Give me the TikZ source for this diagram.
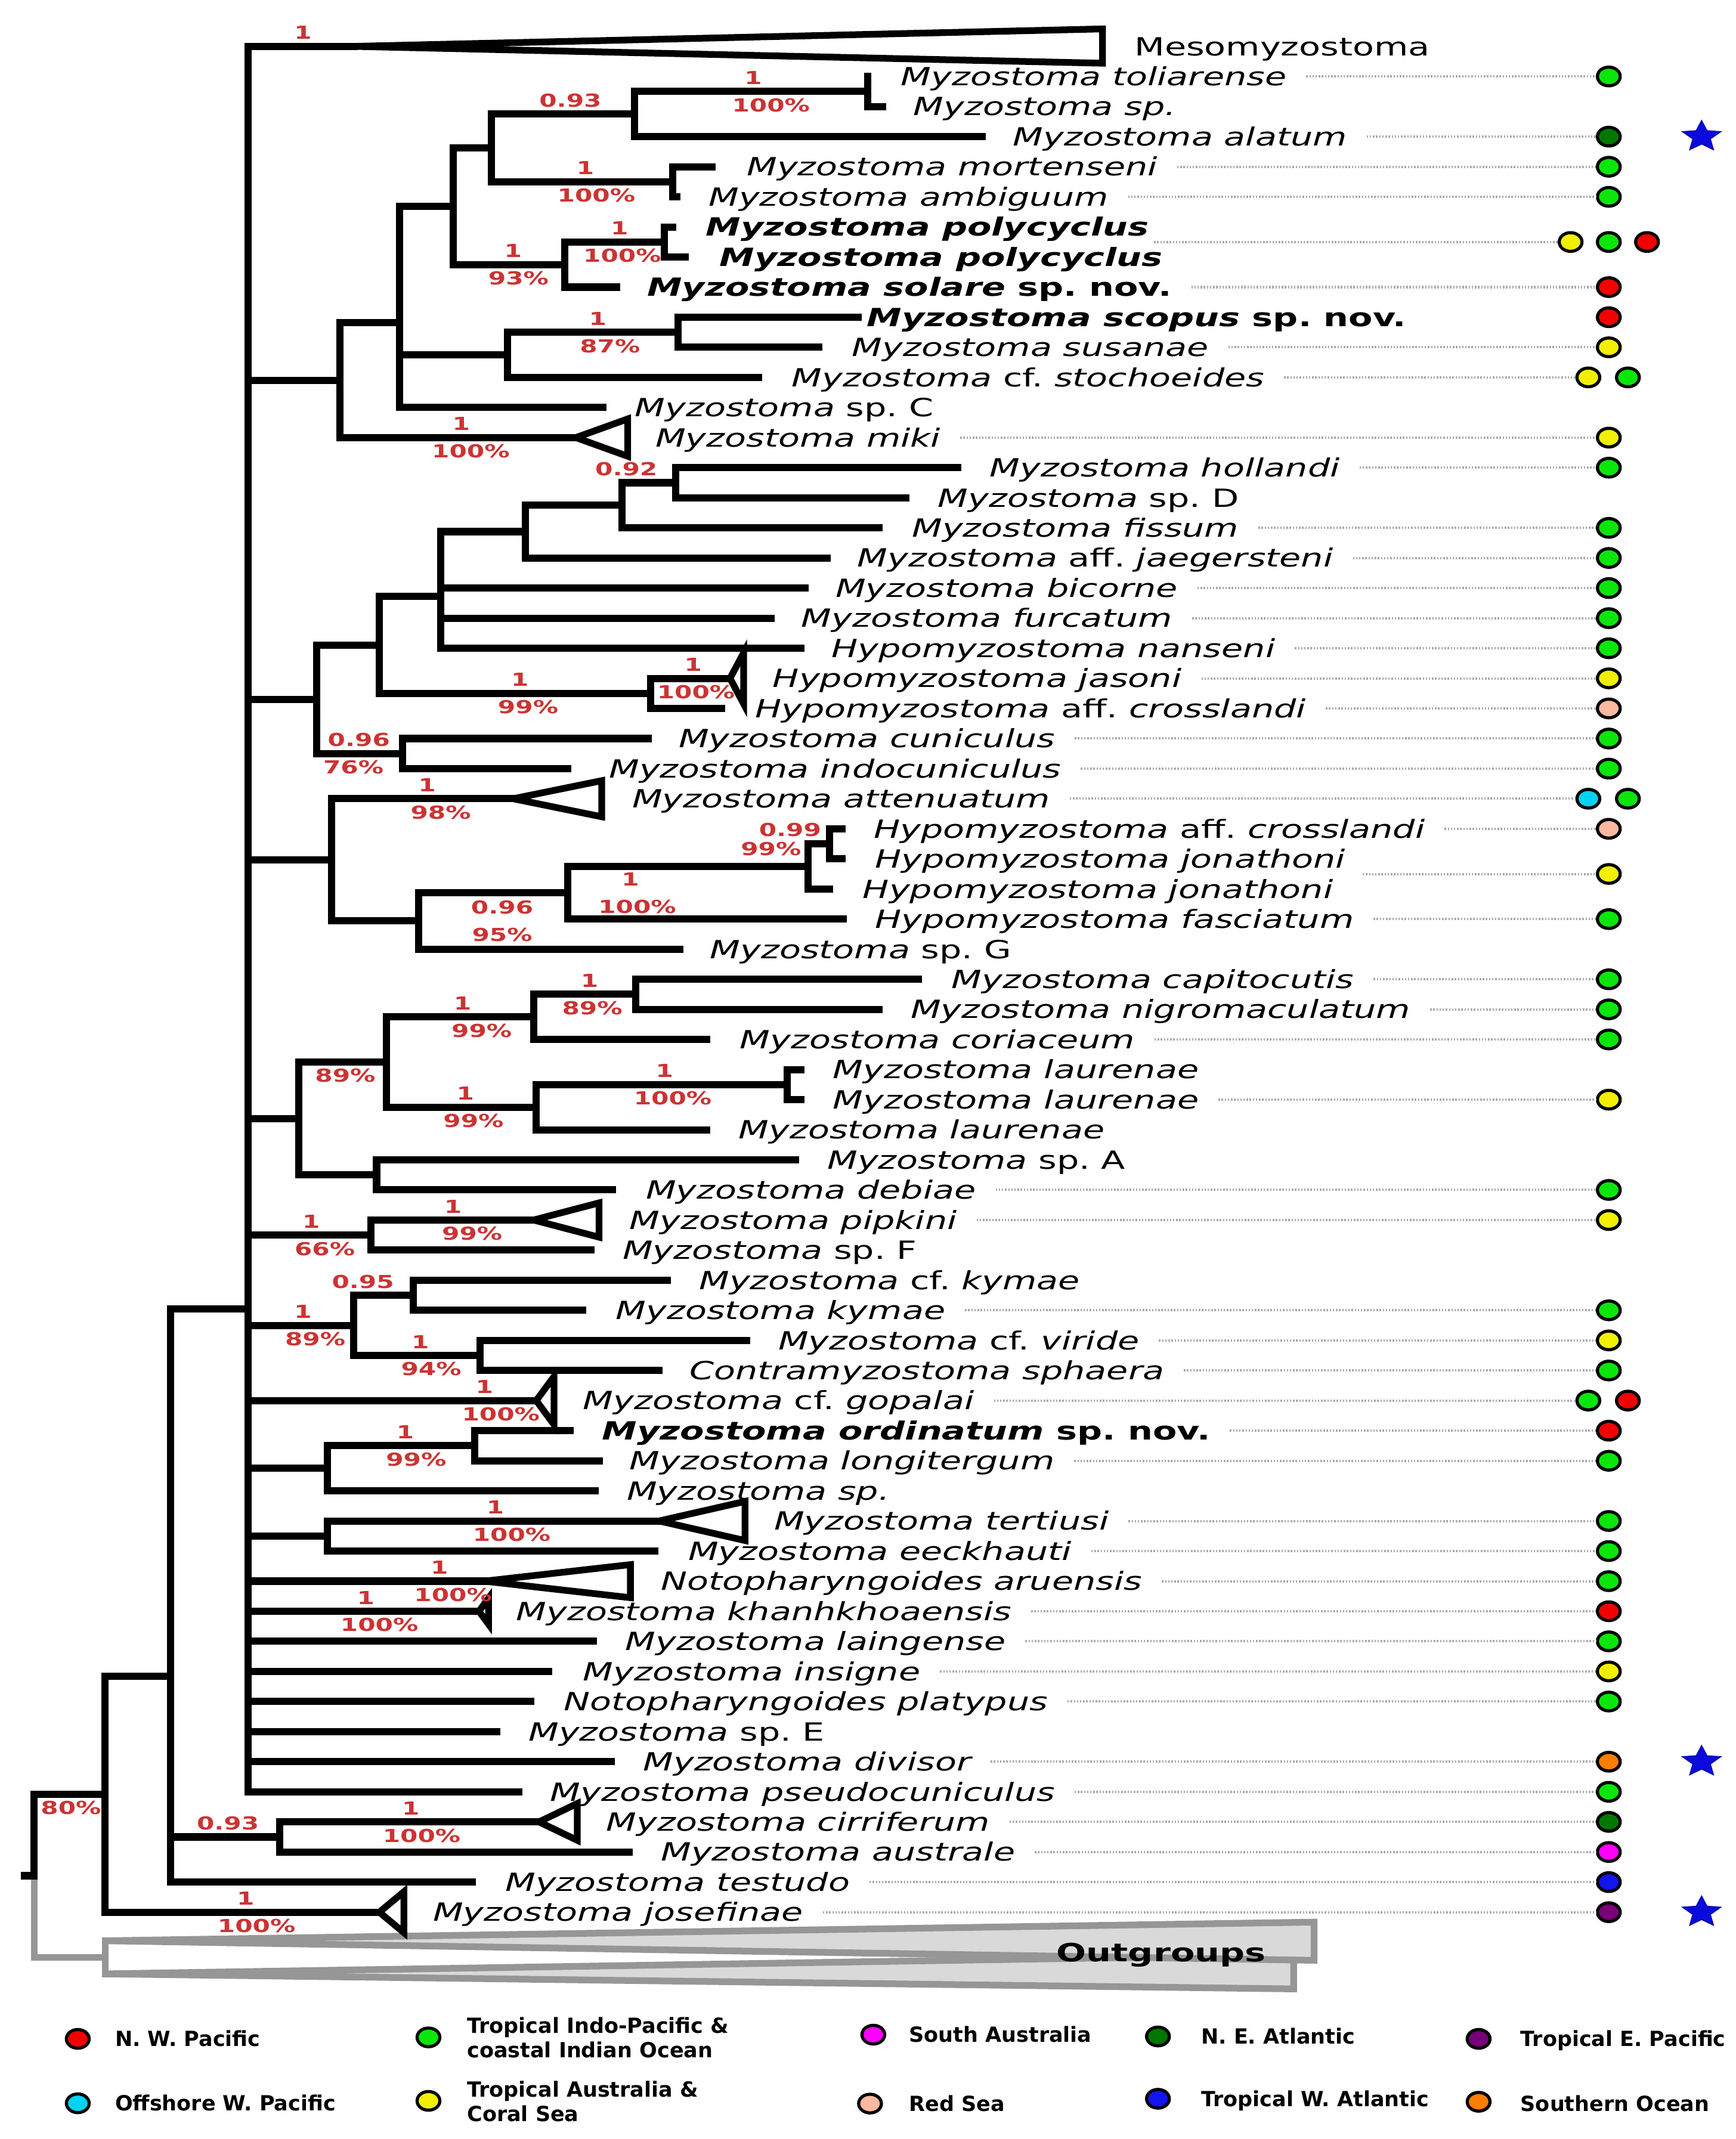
\documentclass[tikz,border=0pt]{standalone}
\usepackage{fontspec}
\usetikzlibrary{shapes.geometric}
\newfontfamily\taxfont[FakeStretch=1.4,ItalicFont={DejaVu Sans Oblique},BoldFont={DejaVu Sans Bold},BoldItalicFont={DejaVu Sans Bold Oblique}]{DejaVu Sans}
\newfontfamily\legfont[BoldFont={DejaVu Sans Bold}]{DejaVu Sans}
\definecolor{supred}{RGB}{204,51,51}
\definecolor{cNWP}{RGB}{245,0,0}
\definecolor{cTIP}{RGB}{10,230,10}
\definecolor{cSA}{RGB}{255,0,255}
\definecolor{cNEA}{RGB}{0,120,0}
\definecolor{cTEP}{RGB}{120,0,120}
\definecolor{cOWP}{RGB}{0,210,240}
\definecolor{cTAC}{RGB}{240,240,0}
\definecolor{cRS}{RGB}{250,185,160}
\definecolor{cTWA}{RGB}{20,20,240}
\definecolor{cSO}{RGB}{255,125,0}
\definecolor{ogline}{RGB}{150,150,150}
\definecolor{ogfill}{RGB}{217,217,217}
\definecolor{leadgray}{RGB}{170,170,170}
\definecolor{starblue}{RGB}{10,10,220}
\frenchspacing

\begin{document}
\begin{tikzpicture}[x=0.02cm, y=-0.4412cm,
  br/.style={line width=3pt, line cap=rect, line join=miter},
  clade/.style={line width=2.8pt, line join=miter, fill=white},
  ogbr/.style={draw=ogline, line width=2.8pt, line cap=rect, line join=miter},
  ogclade/.style={draw=ogline, line width=2.8pt, line join=miter, fill=ogfill},
  taxon/.style={anchor=base west, inner sep=0pt, yshift=-3.8pt, font=\taxfont\fontsize{10.45}{12}\selectfont\itshape},
  supt/.style={inner sep=0pt, text=supred, font=\taxfont\fontsize{7.5}{9}\selectfont\bfseries},
  postlab/.style={supt, yshift=5.7pt},
  bootlab/.style={supt, yshift=-5.7pt},
  leader/.style={draw=leadgray, line width=1pt, dash pattern=on 0.6pt off 0.7pt},
  regdot/.style={ellipse, draw, line width=1.3pt, minimum width=0.334cm, minimum height=0.274cm, inner sep=0pt},
  starmark/.style={star, star points=5, star point ratio=2.2, minimum size=13.5pt, inner sep=0pt, fill=starblue, draw=starblue!80!black, line width=0.4pt, xscale=1.25},
  legtext/.style={anchor=base west, inner sep=0pt, yshift=-3.2pt, font=\legfont\fontsize{8.7}{10.3}\selectfont\bfseries},
  legblock/.style={anchor=west, align=left, inner sep=0pt, font=\legfont\fontsize{8.7}{10.3}\selectfont\bfseries}]
\useasboundingbox (0,-0.5413) rectangle (1272,70.538);

\coordinate (rootstub) at (18,61.788);
\coordinate (root) at (25,61.788);
\coordinate (nR2) at (77,59.076);
\coordinate (nOut) at (77,64.5);
\coordinate (ogA) at (77,63.95);
\coordinate (ogB) at (77,65.05);
\coordinate (nR3) at (125,55.152);
\coordinate (nA) at (182,42.955);
\coordinate (nK) at (205,60.5);
\coordinate (nB) at (249,12.094);
\coordinate (nB1) at (293,10.1875);
\coordinate (nB2) at (332,6.3125);
\coordinate (nB4) at (360,4.375);
\coordinate (nAla) at (465,3.25);
\coordinate (nTol) at (636,2.5);
\coordinate (nMor) at (493,5.5);
\coordinate (nSol) at (414,8.25);
\coordinate (nPol) at (487,7.5);
\coordinate (nB3) at (372,11.25);
\coordinate (nSco) at (497,10.5);
\coordinate (nC) at (232,22.695);
\coordinate (nC1) at (278,20.891);
\coordinate (nC2) at (323,19.281);
\coordinate (nC3) at (385,17.125);
\coordinate (nC4) at (456,16.25);
\coordinate (nHol) at (495,15.5);
\coordinate (nJas) at (477,22.5);
\coordinate (nCun) at (295,24.5);
\coordinate (nD) at (243,28.031);
\coordinate (nD2) at (307,30.0625);
\coordinate (nD3) at (416,29.125);
\coordinate (nD4) at (592,28.25);
\coordinate (nD5) at (608,27.5);
\coordinate (nE) at (219,36.625);
\coordinate (nE1) at (283,34.75);
\coordinate (nE3) at (391,33.25);
\coordinate (nE5) at (466,32.5);
\coordinate (nE4) at (393,36.25);
\coordinate (nE6) at (577,35.5);
\coordinate (nE2) at (276,38.5);
\coordinate (nF) at (272,40.5);
\coordinate (nG) at (259,43.5);
\coordinate (nG1) at (303,42.5);
\coordinate (nG2) at (352,44.5);
\coordinate (nH) at (240,48.25);
\coordinate (nH1) at (348,47.5);
\coordinate (nI) at (240,50.5);

\coordinate (t1) at (259,1); \node[taxon] (l1) at (831,1) {\textup{Mesomyzostoma}};
\coordinate (t2) at (636,2); \node[taxon] (l2) at (660,2) {Myzostoma toliarense};
\coordinate (t3) at (647,3); \node[taxon] (l3) at (669,3) {Myzostoma sp.};
\coordinate (t4) at (720,4); \node[taxon] (l4) at (742,4) {Myzostoma alatum};
\coordinate (t5) at (522,5); \node[taxon] (l5) at (547,5) {Myzostoma mortenseni};
\coordinate (t6) at (496,6); \node[taxon] (l6) at (519,6) {Myzostoma ambiguum};
\coordinate (t7) at (493,7); \node[taxon] (l7) at (517,7) {\bfseries Myzostoma polycyclus};
\coordinate (t8) at (502,8); \node[taxon] (l8) at (527,8) {\bfseries Myzostoma polycyclus};
\coordinate (t9) at (452,9); \node[taxon] (l9) at (474,9) {\bfseries Myzostoma solare \textup{sp. nov.}};
\coordinate (t10) at (629,10); \node[taxon] (l10) at (635,10) {\bfseries Myzostoma scopus \textup{sp. nov.}};
\coordinate (t11) at (600,11); \node[taxon] (l11) at (624,11) {Myzostoma susanae};
\coordinate (t12) at (556,12); \node[taxon] (l12) at (580,12) {Myzostoma \textup{cf.} stochoeides};
\coordinate (t13) at (442,13); \node[taxon] (l13) at (465,13) {Myzostoma \textup{sp. C}};
\coordinate (t14) at (422,14); \node[taxon] (l14) at (480,14) {Myzostoma miki};
\coordinate (t15) at (702,15); \node[taxon] (l15) at (725,15) {Myzostoma hollandi};
\coordinate (t16) at (664,16); \node[taxon] (l16) at (687,16) {Myzostoma \textup{sp. D}};
\coordinate (t17) at (644,17); \node[taxon] (l17) at (668,17) {Myzostoma fissum};
\coordinate (t18) at (606,18); \node[taxon] (l18) at (628,18) {Myzostoma \textup{aff.} jaegersteni};
\coordinate (t19) at (590,19); \node[taxon] (l19) at (612,19) {Myzostoma bicorne};
\coordinate (t20) at (565,20); \node[taxon] (l20) at (587,20) {Myzostoma furcatum};
\coordinate (t21) at (587,21); \node[taxon] (l21) at (609,21) {Hypomyzostoma nanseni};
\coordinate (t22) at (535,22); \node[taxon] (l22) at (566,22) {Hypomyzostoma jasoni};
\coordinate (t23) at (529,23); \node[taxon] (l23) at (553,23) {Hypomyzostoma \textup{aff.} crosslandi};
\coordinate (t24) at (475,24); \node[taxon] (l24) at (497,24) {Myzostoma cuniculus};
\coordinate (t25) at (416,25); \node[taxon] (l25) at (446,25) {Myzostoma indocuniculus};
\coordinate (t26) at (376,26); \node[taxon] (l26) at (463,26) {Myzostoma attenuatum};
\coordinate (t27) at (617,27); \node[taxon] (l27) at (640,27) {Hypomyzostoma \textup{aff.} crosslandi};
\coordinate (t28) at (617,28); \node[taxon] (l28) at (641,28) {Hypomyzostoma jonathoni};
\coordinate (t29) at (608,29); \node[taxon] (l29) at (632,29) {Hypomyzostoma jonathoni};
\coordinate (t30) at (618,30); \node[taxon] (l30) at (641,30) {Hypomyzostoma fasciatum};
\coordinate (t31) at (498,31); \node[taxon] (l31) at (520,31) {Myzostoma \textup{sp. G}};
\coordinate (t32) at (673,32); \node[taxon] (l32) at (697,32) {Myzostoma capitocutis};
\coordinate (t33) at (644,33); \node[taxon] (l33) at (667,33) {Myzostoma nigromaculatum};
\coordinate (t34) at (518,34); \node[taxon] (l34) at (542,34) {Myzostoma coriaceum};
\coordinate (t35) at (587,35); \node[taxon] (l35) at (610,35) {Myzostoma laurenae};
\coordinate (t36) at (587,36); \node[taxon] (l36) at (610,36) {Myzostoma laurenae};
\coordinate (t37) at (518,37); \node[taxon] (l37) at (541,37) {Myzostoma laurenae};
\coordinate (t38) at (583,38); \node[taxon] (l38) at (606,38) {Myzostoma \textup{sp. A}};
\coordinate (t39) at (449,39); \node[taxon] (l39) at (473,39) {Myzostoma debiae};
\coordinate (t40) at (391,40); \node[taxon] (l40) at (461,40) {Myzostoma pipkini};
\coordinate (t41) at (433,41); \node[taxon] (l41) at (456,41) {Myzostoma \textup{sp. F}};
\coordinate (t42) at (489,42); \node[taxon] (l42) at (512,42) {Myzostoma \textup{cf.} kymae};
\coordinate (t43) at (427,43); \node[taxon] (l43) at (451,43) {Myzostoma kymae};
\coordinate (t44) at (547,44); \node[taxon] (l44) at (570,44) {Myzostoma \textup{cf.} viride};
\coordinate (t45) at (483,45); \node[taxon] (l45) at (505,45) {Contramyzostoma sphaera};
\coordinate (t46) at (393,46); \node[taxon] (l46) at (427,46) {Myzostoma \textup{cf.} gopalai};
\coordinate (t47) at (418,47); \node[taxon] (l47) at (441,47) {\bfseries Myzostoma ordinatum \textup{sp. nov.}};
\coordinate (t48) at (439,48); \node[taxon] (l48) at (461,48) {Myzostoma longitergum};
\coordinate (t49) at (436,49); \node[taxon] (l49) at (459,49) {Myzostoma sp.};
\coordinate (t50) at (483,50); \node[taxon] (l50) at (567,50) {Myzostoma tertiusi};
\coordinate (t51) at (480,51); \node[taxon] (l51) at (504,51) {Myzostoma eeckhauti};
\coordinate (t52) at (355,52); \node[taxon] (l52) at (484,52) {Notopharyngoides aruensis};
\coordinate (t53) at (351,53); \node[taxon] (l53) at (378,53) {Myzostoma khanhkhoaensis};
\coordinate (t54) at (435,54); \node[taxon] (l54) at (458,54) {Myzostoma laingense};
\coordinate (t55) at (402,55); \node[taxon] (l55) at (427,55) {Myzostoma insigne};
\coordinate (t56) at (389,56); \node[taxon] (l56) at (413,56) {Notopharyngoides platypus};
\coordinate (t57) at (364,57); \node[taxon] (l57) at (387,57) {Myzostoma \textup{sp. E}};
\coordinate (t58) at (448,58); \node[taxon] (l58) at (471,58) {Myzostoma divisor};
\coordinate (t59) at (380,59); \node[taxon] (l59) at (403,59) {Myzostoma pseudocuniculus};
\coordinate (t60) at (395,60); \node[taxon] (l60) at (444,60) {Myzostoma cirriferum};
\coordinate (t61) at (461,61); \node[taxon] (l61) at (484,61) {Myzostoma australe};
\coordinate (t62) at (346,62); \node[taxon] (l62) at (370,62) {Myzostoma testudo};
\coordinate (t63) at (278,63); \node[taxon] (l63) at (317,63) {Myzostoma josefinae};

\draw[ogbr] (root) |- (nOut) (nOut) |- (ogA) (nOut) |- (ogB);
\draw[ogclade] (ogB) -- (948,64.42) -- (948,65.55) -- cycle;
\draw[ogclade] (ogA) -- (963,63.33) -- (963,64.6) -- cycle;
\node[anchor=base, inner sep=0pt, yshift=-3.8pt, font=\taxfont\fontsize{10.45}{12}\selectfont\bfseries] (og) at (851,64.33) {Outgroups};

\draw[br] (rootstub) -- (root) |- (nR2);
\draw[br] (nR2) |- (nR3) (nR2) |- (t63);
\draw[br] (nR3) |- (nA) (nR3) |- (nK) (nR3) |- (t62);
\draw[br] (nK) |- (t60) (nK) |- (t61);
\draw[br] (nA) |- (t1) (nA) |- (nB) (nA) |- (nC) (nA) |- (nD) (nA) |- (nE) (nA) |- (nF) (nA) |- (nG) (nA) |- (t46) (nA) |- (nH) (nA) |- (nI);
\draw[br] (nA) |- (t52) (nA) |- (t53) (nA) |- (t54) (nA) |- (t55) (nA) |- (t56) (nA) |- (t57) (nA) |- (t58) (nA) |- (t59);
\draw[br] (nB) |- (nB1) (nB) |- (t14);
\draw[br] (nB1) |- (nB2) (nB1) |- (nB3) (nB1) |- (t13);
\draw[br] (nB2) |- (nB4) (nB2) |- (nSol);
\draw[br] (nB4) |- (nAla) (nB4) |- (nMor);
\draw[br] (nAla) |- (nTol) (nAla) |- (t4);
\draw[br] (nTol) |- (t2) (nTol) |- (t3);
\draw[br] (nMor) |- (t5) (nMor) |- (t6);
\draw[br] (nSol) |- (nPol) (nSol) |- (t9);
\draw[br] (nPol) |- (t7) (nPol) |- (t8);
\draw[br] (nB3) |- (nSco) (nB3) |- (t12);
\draw[br] (nSco) |- (t10) (nSco) |- (t11);
\draw[br] (nC) |- (nC1) (nC) |- (nCun);
\draw[br] (nC1) |- (nC2) (nC1) |- (nJas);
\draw[br] (nC2) |- (nC3) (nC2) |- (t19) (nC2) |- (t20) (nC2) |- (t21);
\draw[br] (nC3) |- (nC4) (nC3) |- (t18);
\draw[br] (nC4) |- (nHol) (nC4) |- (t17);
\draw[br] (nHol) |- (t15) (nHol) |- (t16);
\draw[br] (nJas) |- (t22) (nJas) |- (t23);
\draw[br] (nCun) |- (t24) (nCun) |- (t25);
\draw[br] (nD) |- (t26) (nD) |- (nD2);
\draw[br] (nD2) |- (nD3) (nD2) |- (t31);
\draw[br] (nD3) |- (nD4) (nD3) |- (t30);
\draw[br] (nD4) |- (nD5) (nD4) |- (t29);
\draw[br] (nD5) |- (t27) (nD5) |- (t28);
\draw[br] (nE) |- (nE1) (nE) |- (nE2);
\draw[br] (nE1) |- (nE3) (nE1) |- (nE4);
\draw[br] (nE3) |- (nE5) (nE3) |- (t34);
\draw[br] (nE5) |- (t32) (nE5) |- (t33);
\draw[br] (nE4) |- (nE6) (nE4) |- (t37);
\draw[br] (nE6) |- (t35) (nE6) |- (t36);
\draw[br] (nE2) |- (t38) (nE2) |- (t39);
\draw[br] (nF) |- (t40) (nF) |- (t41);
\draw[br] (nG) |- (nG1) (nG) |- (nG2);
\draw[br] (nG1) |- (t42) (nG1) |- (t43);
\draw[br] (nG2) |- (t44) (nG2) |- (t45);
\draw[br] (nH) |- (nH1) (nH) |- (t49);
\draw[br] (nH1) |- (t47) (nH1) |- (t48);
\draw[br] (nI) |- (t50) (nI) |- (t51);

\draw[clade] (t1) -- (808,0.42) -- (808,1.56) -- cycle;
\draw[clade] (t14) -- (460,13.38) -- (460,14.62) -- cycle;
\draw[clade] (t22) -- (545,21.15) -- (545,22.85) -- cycle;
\draw[clade] (t26) -- (441,25.4) -- (441,26.6) -- cycle;
\draw[clade] (t40) -- (439,39.43) -- (439,40.57) -- cycle;
\draw[clade] (t46) -- (406,45.2) -- (406,46.8) -- cycle;
\draw[clade] (t50) -- (546,49.35) -- (546,50.65) -- cycle;
\draw[clade] (t52) -- (462,51.45) -- (462,52.55) -- cycle;
\draw[clade] (t53) -- (358,52.57) -- (358,53.43) -- cycle;
\draw[clade] (t60) -- (423,59.39) -- (423,60.61) -- cycle;
\draw[clade] (t63) -- (296,62.32) -- (296,63.68) -- cycle;

\node[postlab] (pMes) at (222,1) {1};
\node[postlab] (pTol) at (552,2.5) {1}; \node[bootlab] (bTol) at (565,2.5) {100\%};
\node[postlab] (pAla) at (418,3.25) {0.93};
\node[postlab] (pMor) at (429,5.5) {1}; \node[bootlab] (bMor) at (437,5.5) {100\%};
\node[postlab] (pPol) at (454,7.5) {1}; \node[bootlab] (bPol) at (456,7.5) {100\%};
\node[postlab] (pSol) at (376,8.25) {1}; \node[bootlab] (bSol) at (380,8.25) {93\%};
\node[postlab] (pSco) at (438,10.5) {1}; \node[bootlab] (bSco) at (447,10.5) {87\%};
\node[postlab] (pMik) at (338,14) {1}; \node[bootlab] (bMik) at (345,14) {100\%};
\node[postlab] (pHol) at (459,15.5) {0.92};
\node[postlab] (pJas) at (381,22.5) {1}; \node[bootlab] (bJas) at (387,22.5) {99\%};
\node[postlab] (pJa2) at (508,22) {1}; \node[bootlab] (bJa2) at (510,22) {100\%};
\node[postlab] (pCun) at (263,24.5) {0.96}; \node[bootlab] (bCun) at (259,24.5) {76\%};
\node[postlab] (pAtt) at (313,26) {1}; \node[bootlab] (bAtt) at (323,26) {98\%};
\node[postlab] (pD2) at (368,30.0625) {0.96}; \node[bootlab] (bD2) at (368,30.0625) {95\%};
\node[postlab] (pD3) at (462,29.125) {1}; \node[bootlab] (bD3) at (467,29.125) {100\%};
\node[supt] (pD5) at (579,27.04) {0.99}; \node[supt] (bD5) at (565,27.66) {99\%};
\node[bootlab] (bE1) at (253,34.75) {89\%};
\node[postlab] (pE3) at (339,33.25) {1}; \node[bootlab] (bE3) at (353,33.25) {99\%};
\node[postlab] (pE5) at (432,32.5) {1}; \node[bootlab] (bE5) at (434,32.5) {89\%};
\node[postlab] (pE4) at (341,36.25) {1}; \node[bootlab] (bE4) at (347,36.25) {99\%};
\node[postlab] (pE6) at (487,35.5) {1}; \node[bootlab] (bE6) at (493,35.5) {100\%};
\node[postlab] (pF) at (228,40.5) {1}; \node[bootlab] (bF) at (238,40.5) {66\%};
\node[postlab] (pPip) at (332,40) {1}; \node[bootlab] (bPip) at (346,40) {99\%};
\node[postlab] (pG) at (222,43.5) {1}; \node[bootlab] (bG) at (231,43.5) {89\%};
\node[postlab] (pG1) at (266,42.5) {0.95};
\node[postlab] (pG2) at (308,44.5) {1}; \node[bootlab] (bG2) at (316,44.5) {94\%};
\node[postlab] (pGop) at (355,46) {1}; \node[bootlab] (bGop) at (367,46) {100\%};
\node[postlab] (pH1) at (297,47.5) {1}; \node[bootlab] (bH1) at (305,47.5) {99\%};
\node[postlab] (pTer) at (363,50) {1}; \node[bootlab] (bTer) at (375,50) {100\%};
\node[postlab] (pAru) at (322,52) {1}; \node[bootlab] (bAru) at (332,52) {100\%};
\node[postlab] (pKha) at (268,53) {1}; \node[bootlab] (bKha) at (278,53) {100\%};
\node[postlab] (pK) at (167,60.5) {0.93};
\node[postlab] (pCir) at (301,60) {1}; \node[bootlab] (bCir) at (309,60) {100\%};
\node[postlab] (pJos) at (180,63) {1}; \node[bootlab] (bJos) at (188,63) {100\%};
\node[bootlab] (bR2) at (52,59.076) {80\%};

\node[regdot, fill=cTIP] (d2) at (1179,2) {};
\node[regdot, fill=cNEA] (d4) at (1179,4) {};
\node[regdot, fill=cTIP] (d5) at (1179,5) {};
\node[regdot, fill=cTIP] (d6) at (1179,6) {};
\node[regdot, fill=cTAC] (d7a) at (1151,7.5) {};
\node[regdot, fill=cTIP] (d7b) at (1179,7.5) {};
\node[regdot, fill=cNWP] (d7c) at (1207,7.5) {};
\node[regdot, fill=cNWP] (d9) at (1179,9) {};
\node[regdot, fill=cNWP] (d10) at (1179,10) {};
\node[regdot, fill=cTAC] (d11) at (1179,11) {};
\node[regdot, fill=cTAC] (d12a) at (1164,12) {};
\node[regdot, fill=cTIP] (d12b) at (1193,12) {};
\node[regdot, fill=cTAC] (d14) at (1179,14) {};
\node[regdot, fill=cTIP] (d15) at (1179,15) {};
\node[regdot, fill=cTIP] (d17) at (1179,17) {};
\node[regdot, fill=cTIP] (d18) at (1179,18) {};
\node[regdot, fill=cTIP] (d19) at (1179,19) {};
\node[regdot, fill=cTIP] (d20) at (1179,20) {};
\node[regdot, fill=cTIP] (d21) at (1179,21) {};
\node[regdot, fill=cTAC] (d22) at (1179,22) {};
\node[regdot, fill=cRS] (d23) at (1179,23) {};
\node[regdot, fill=cTIP] (d24) at (1179,24) {};
\node[regdot, fill=cTIP] (d25) at (1179,25) {};
\node[regdot, fill=cOWP] (d26a) at (1164,26) {};
\node[regdot, fill=cTIP] (d26b) at (1193,26) {};
\node[regdot, fill=cRS] (d27) at (1179,27) {};
\node[regdot, fill=cTAC] (d28) at (1179,28.5) {};
\node[regdot, fill=cTIP] (d30) at (1179,30) {};
\node[regdot, fill=cTIP] (d32) at (1179,32) {};
\node[regdot, fill=cTIP] (d33) at (1179,33) {};
\node[regdot, fill=cTIP] (d34) at (1179,34) {};
\node[regdot, fill=cTAC] (d36) at (1179,36) {};
\node[regdot, fill=cTIP] (d39) at (1179,39) {};
\node[regdot, fill=cTAC] (d40) at (1179,40) {};
\node[regdot, fill=cTIP] (d43) at (1179,43) {};
\node[regdot, fill=cTAC] (d44) at (1179,44) {};
\node[regdot, fill=cTIP] (d45) at (1179,45) {};
\node[regdot, fill=cTIP] (d46a) at (1164,46) {};
\node[regdot, fill=cNWP] (d46b) at (1193,46) {};
\node[regdot, fill=cNWP] (d47) at (1179,47) {};
\node[regdot, fill=cTIP] (d48) at (1179,48) {};
\node[regdot, fill=cTIP] (d50) at (1179,50) {};
\node[regdot, fill=cTIP] (d51) at (1179,51) {};
\node[regdot, fill=cTIP] (d52) at (1179,52) {};
\node[regdot, fill=cNWP] (d53) at (1179,53) {};
\node[regdot, fill=cTIP] (d54) at (1179,54) {};
\node[regdot, fill=cTAC] (d55) at (1179,55) {};
\node[regdot, fill=cTIP] (d56) at (1179,56) {};
\node[regdot, fill=cSO] (d58) at (1179,58) {};
\node[regdot, fill=cTIP] (d59) at (1179,59) {};
\node[regdot, fill=cNEA] (d60) at (1179,60) {};
\node[regdot, fill=cSA] (d61) at (1179,61) {};
\node[regdot, fill=cTWA] (d62) at (1179,62) {};
\node[regdot, fill=cTEP] (d63) at (1179,63) {};

\draw[leader] (l2.east |- d2.west) ++(8pt,0) -- (d2.west);
\draw[leader] (l4.east |- d4.west) ++(8pt,0) -- (d4.west);
\draw[leader] (l5.east |- d5.west) ++(8pt,0) -- (d5.west);
\draw[leader] (l6.east |- d6.west) ++(8pt,0) -- (d6.west);
\draw[leader] (l7.east |- d7a.west) ++(2pt,0) -- (d7a.west);
\draw[leader] (l9.east |- d9.west) ++(8pt,0) -- (d9.west);
\draw[leader] (l11.east |- d11.west) ++(8pt,0) -- (d11.west);
\draw[leader] (l12.east |- d12a.west) ++(8pt,0) -- (d12a.west);
\draw[leader] (l14.east |- d14.west) ++(8pt,0) -- (d14.west);
\draw[leader] (l15.east |- d15.west) ++(8pt,0) -- (d15.west);
\draw[leader] (l17.east |- d17.west) ++(8pt,0) -- (d17.west);
\draw[leader] (l18.east |- d18.west) ++(8pt,0) -- (d18.west);
\draw[leader] (l19.east |- d19.west) ++(8pt,0) -- (d19.west);
\draw[leader] (l20.east |- d20.west) ++(8pt,0) -- (d20.west);
\draw[leader] (l21.east |- d21.west) ++(8pt,0) -- (d21.west);
\draw[leader] (l22.east |- d22.west) ++(8pt,0) -- (d22.west);
\draw[leader] (l23.east |- d23.west) ++(8pt,0) -- (d23.west);
\draw[leader] (l24.east |- d24.west) ++(8pt,0) -- (d24.west);
\draw[leader] (l25.east |- d25.west) ++(8pt,0) -- (d25.west);
\draw[leader] (l26.east |- d26a.west) ++(8pt,0) -- (d26a.west);
\draw[leader] (l27.east |- d27.west) ++(8pt,0) -- (d27.west);
\draw[leader] (l28.east |- d28.west) ++(7pt,0) -- (d28.west);
\draw[leader] (l30.east |- d30.west) ++(8pt,0) -- (d30.west);
\draw[leader] (l32.east |- d32.west) ++(8pt,0) -- (d32.west);
\draw[leader] (l33.east |- d33.west) ++(8pt,0) -- (d33.west);
\draw[leader] (l34.east |- d34.west) ++(8pt,0) -- (d34.west);
\draw[leader] (l36.east |- d36.west) ++(8pt,0) -- (d36.west);
\draw[leader] (l39.east |- d39.west) ++(8pt,0) -- (d39.west);
\draw[leader] (l40.east |- d40.west) ++(8pt,0) -- (d40.west);
\draw[leader] (l43.east |- d43.west) ++(8pt,0) -- (d43.west);
\draw[leader] (l44.east |- d44.west) ++(8pt,0) -- (d44.west);
\draw[leader] (l45.east |- d45.west) ++(8pt,0) -- (d45.west);
\draw[leader] (l46.east |- d46a.west) ++(8pt,0) -- (d46a.west);
\draw[leader] (l47.east |- d47.west) ++(8pt,0) -- (d47.west);
\draw[leader] (l48.east |- d48.west) ++(8pt,0) -- (d48.west);
\draw[leader] (l50.east |- d50.west) ++(8pt,0) -- (d50.west);
\draw[leader] (l51.east |- d51.west) ++(8pt,0) -- (d51.west);
\draw[leader] (l52.east |- d52.west) ++(8pt,0) -- (d52.west);
\draw[leader] (l53.east |- d53.west) ++(8pt,0) -- (d53.west);
\draw[leader] (l54.east |- d54.west) ++(8pt,0) -- (d54.west);
\draw[leader] (l55.east |- d55.west) ++(8pt,0) -- (d55.west);
\draw[leader] (l56.east |- d56.west) ++(8pt,0) -- (d56.west);
\draw[leader] (l58.east |- d58.west) ++(8pt,0) -- (d58.west);
\draw[leader] (l59.east |- d59.west) ++(8pt,0) -- (d59.west);
\draw[leader] (l60.east |- d60.west) ++(8pt,0) -- (d60.west);
\draw[leader] (l61.east |- d61.west) ++(8pt,0) -- (d61.west);
\draw[leader] (l62.east |- d62.west) ++(8pt,0) -- (d62.west);
\draw[leader] (l63.east |- d63.west) ++(8pt,0) -- (d63.west);

\node[starmark] (s4) at (1247,4) {};
\node[starmark] (s58) at (1247,58) {};
\node[starmark] (s63) at (1247,63) {};

\node[regdot, fill=cNWP] (k1) at (57,67.21) {};
\node[legtext] (k1t) at (84,67.21) {N. W. Pacific};
\node[regdot, fill=cTIP] (k2) at (314,67.16) {};
\node[legblock] (k2t) at (342,67.17) {Tropical Indo-Pacific \&\\coastal Indian Ocean};
\node[regdot, fill=cSA] (k3) at (640,67.07) {};
\node[legtext] (k3t) at (666,67.07) {South Australia};
\node[regdot, fill=cNEA] (k4) at (848.6,67.13) {};
\node[legtext] (k4t) at (880,67.13) {N. E. Atlantic};
\node[regdot, fill=cTEP] (k5) at (1083.6,67.21) {};
\node[legtext] (k5t) at (1114,67.21) {Tropical E. Pacific};
\node[regdot, fill=cOWP] (k6) at (57,69.35) {};
\node[legtext] (k6t) at (84,69.35) {Offshore W. Pacific};
\node[regdot, fill=cTAC] (k7) at (314,69.27) {};
\node[legblock] (k7t) at (342,69.29) {Tropical Australia \&\\Coral Sea};
\node[regdot, fill=cRS] (k8) at (637.6,69.36) {};
\node[legtext] (k8t) at (666,69.36) {Red Sea};
\node[regdot, fill=cTWA] (k9) at (848.6,69.2) {};
\node[legtext] (k9t) at (880,69.2) {Tropical W. Atlantic};
\node[regdot, fill=cSO] (k10) at (1083.6,69.3) {};
\node[legtext] (k10t) at (1114,69.36) {Southern Ocean};
\end{tikzpicture}
\end{document}
